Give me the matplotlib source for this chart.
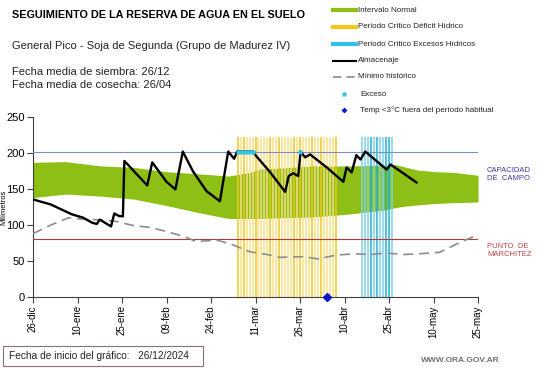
import matplotlib
matplotlib.use("Agg")
import matplotlib.pyplot as plt
from matplotlib.patches import Rectangle

plt.rcParams['font.family'] = ['Liberation Sans', 'DejaVu Sans']

# ---------------- data ----------------
tick_days = [0, 15, 30, 45, 60, 75, 90, 105, 120, 135, 150]
tick_labels = ["26-dic", "10-ene", "25-ene", "09-feb", "24-feb", "11-mar",
               "26-mar", "10-abr", "25-abr", "10-may", "25-may"]

band_days = [0, 11, 23, 34, 45, 56, 66, 73, 77, 83, 94, 106, 119, 122, 125, 130, 136, 142, 150]
band_upper = [187, 188, 182, 180, 174, 171, 168, 173, 178, 179, 182, 182, 183, 184, 181, 176, 174, 173, 169]
band_lower = [138, 143, 140, 136, 127, 117, 109, 109, 109, 110, 111, 115, 121, 124, 126, 128, 130, 131, 132]

min_days = [0, 6, 12, 17, 23, 28, 34, 39, 45, 51, 55, 62, 67, 73, 79, 83, 91, 96, 102,
            108, 114, 119, 125, 130, 137, 144, 148, 150]
min_vals = [88, 100, 110, 108, 107, 105, 99, 97, 91, 84, 77, 79, 73, 63, 59, 55, 56, 53, 58,
            60, 59, 61, 59, 60, 62, 76, 83, 83]

st_days = [0, 6, 13, 17, 20, 21.5, 22.5, 26.3, 27.4, 29, 30.3, 30.8, 38.5, 40.2, 45, 48,
           50.5, 54, 58.5, 63, 65.8, 67.8, 68.8, 74.2, 75, 80, 85, 86.2, 87.7, 89.4, 90.2,
           91.7, 93.4, 99, 104.6, 105.7, 107.4, 109, 110.4, 112, 119.2, 120.5, 123.7, 129.3]
st_vals = [135.5, 128.5, 115, 110, 103, 101.5, 107.5, 98, 116, 112.5, 112, 189, 155, 187,
           160, 149.5, 202, 174, 147, 133, 202, 192, 202, 202, 197, 173, 146, 168, 172, 168,
           202, 194, 198, 180, 160, 180, 173, 197, 191, 202, 177, 184, 175, 159]

capacidad = 202
marchitez = 80

exceso_days = [69, 70, 71, 72, 73, 74, 90]
exceso_vals = [202, 202, 202, 202, 202, 202, 202]

deficit_days = list(range(69, 103))
deficit_dark = [69, 71, 75, 80, 83, 88, 90, 94, 97, 102]
excesos_days = list(range(111, 122))
excesos_dark = [114, 116, 119, 120]
period_top = 222

temp_days = [99]
temp_vals = [0]

# ---------------- figure ----------------
fig = plt.figure(figsize=(5.41, 3.68), dpi=100)
ax = fig.add_axes([33/541, 71/368, 445/541, 180/368])

ax.fill_between(band_days, band_lower, band_upper, color='#8dbf14', lw=0, zorder=1)

for d in deficit_days:
    c = '#f0c81e' if d in deficit_dark else '#f6e08a'
    ax.vlines(d, 0, period_top, colors=c, lw=1.1, zorder=2)
for d in excesos_days:
    c = '#1eb2d8' if d in excesos_dark else '#7fd2e8'
    ax.vlines(d, 0, period_top, colors=c, lw=1.1, zorder=2)

ax.axhline(capacidad, color='#7b8fc4', lw=0.8, zorder=3)
ax.axhline(marchitez, color='#b03a3a', lw=0.8, zorder=3)

ax.plot(min_days, min_vals, color='#8c8c8c', lw=1.2, dashes=(6, 3.5), zorder=4)
ax.plot(st_days, st_vals, color='black', lw=1.7, zorder=5)
ax.plot(exceso_days, exceso_vals, ls='none', marker='s', ms=3.2, color='#33c6e8',
        mec='none', zorder=6)
ax.plot(temp_days, temp_vals, ls='none', marker='D', ms=4.5, color='#0a14c8',
        zorder=7, clip_on=False)

ax.set_xlim(0, 150)
ax.set_ylim(0, 250)
ax.set_xticks(tick_days)
ax.set_xticklabels(tick_labels, rotation=90, fontsize=7)
ax.set_yticks([0, 50, 100, 150, 200, 250])
ax.tick_params(axis='y', labelsize=8, length=4, width=0.8, color='#404040', pad=2)
ax.tick_params(axis='x', length=4, width=0.8, color='#404040', pad=2)
for s in ['top', 'right']:
    ax.spines[s].set_visible(False)
for s in ['left', 'bottom']:
    ax.spines[s].set_color('#404040')
    ax.spines[s].set_linewidth(0.8)
ax.set_ylabel('Milímetros', fontsize=5.5)
ax.yaxis.set_label_coords(-0.058, 0.5)

# ---------------- overlay texts ----------------
ov = fig.add_axes([0, 0, 1, 1], zorder=10)
ov.set_xlim(0, 541)
ov.set_ylim(368, 0)
ov.axis('off')
ov.patch.set_alpha(0)

ov.text(12, 15, 'SEGUIMIENTO DE LA RESERVA DE AGUA EN EL SUELO', fontsize=7.8,
        fontweight='bold', va='center', ha='left')
ov.text(12, 46, 'General Pico - Soja de Segunda (Grupo de Madurez IV)', fontsize=8,
        va='center', ha='left', color='#222222')
ov.text(12, 72, 'Fecha media de siembra: 26/12', fontsize=8, va='center', ha='left',
        color='#222222')
ov.text(12, 85, 'Fecha media de cosecha: 26/04', fontsize=8, va='center', ha='left',
        color='#222222')

leg_y = [10, 27, 44, 61, 77, 94, 110]
leg_txt = ['Intervalo Normal', 'Periodo Crítico Déficit Hídrico',
           'Periodo Crítico Excesos Hídricos', 'Almacenaje', 'Mínimo histórico',
           'Exceso', 'Temp <3°C fuera del período habitual']
ov.plot([333, 356], [leg_y[0]] * 2, color='#8dbf14', lw=3)
ov.plot([333, 356], [leg_y[1]] * 2, color='#f5c518', lw=3)
ov.plot([333, 356], [leg_y[2]] * 2, color='#33c0e8', lw=3)
ov.plot([333, 356], [leg_y[3]] * 2, color='black', lw=1.5)
ov.plot([333, 356], [leg_y[4]] * 2, color='#8c8c8c', lw=1.2, dashes=(5, 3))
ov.plot([344], [leg_y[5]], marker='s', ms=2.5, color='#33c6e8', mec='none')
ov.plot([344], [leg_y[6]], marker='D', ms=3, color='#0a14c8', mec='none')
for y, t in zip(leg_y, leg_txt):
    ov.text(358 if y < 90 else 360, y, t, fontsize=5.8, va='center', ha='left',
            color='#222222')

ov.text(487, 175, 'CAPACIDAD\nDE  CAMPO', fontsize=5.5, va='center', ha='left',
        color='#3a3aa0', linespacing=1.2)
ov.text(487, 250, 'PUNTO  DE\nMARCHITEZ', fontsize=5.5, va='center', ha='left',
        color='#c04040', linespacing=1.2)

ov.add_patch(Rectangle((3, 346), 200, 20, fc='white', ec='#8a7070', lw=0.8))
ov.text(9, 356, 'Fecha de inicio del gráfico:   26/12/2024', fontsize=7.3, va='center',
        ha='left', color='#222222')
ov.text(500, 360, 'WWW.ORA.GOV.AR', fontsize=6, va='center', ha='right',
        color='#707070', fontweight='bold')

fig.savefig('out.png', dpi=100)
